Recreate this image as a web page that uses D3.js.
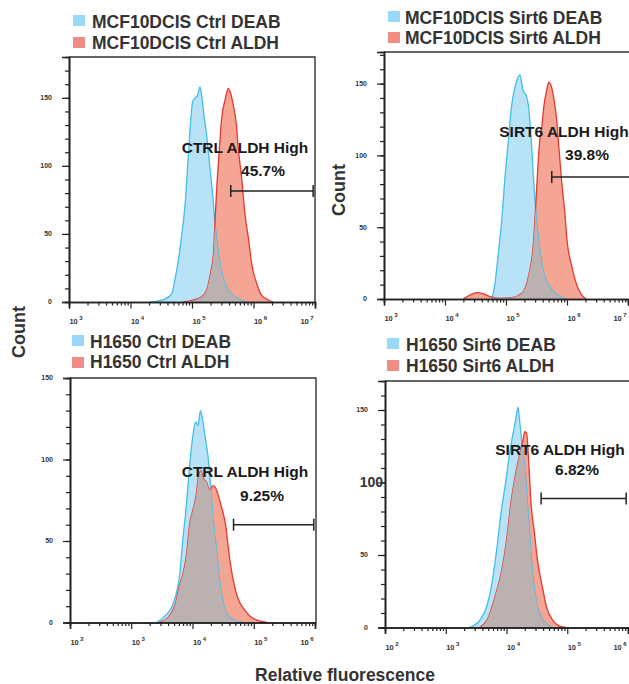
<!DOCTYPE html>
<html>
<head>
<meta charset="utf-8">
<script src="https://cdn.jsdelivr.net/npm/d3@7/dist/d3.min.js"></script>
<style>
  html, body { margin: 0; padding: 0; background: #fff; }
  svg { display: block; font-family: "Liberation Sans", Arial, sans-serif; }
</style>
</head>
<body>
<svg id="chart" width="629" height="684"></svg>
<script>
// ---------------- DATA (x = log10 relative fluorescence, y = count) ----------------
const panelNames = ["MCF10DCIS Ctrl", "MCF10DCIS Sirt6", "H1650 Ctrl", "H1650 Sirt6"];
const seriesSuffix = ["DEAB", "ALDH"];

const mcfCtrlDeabLog   = [4.32,4.55,4.67,4.72,4.78,4.83,4.89,4.94,4.98,5.01,5.05,5.09,5.13,5.16,5.19,5.24,5.29,5.34,5.38,5.43,5.50,5.59,5.73,5.89];
const mcfCtrlDeabCount = [0,2,6,16,31,48,73,107,134,147,150,152,158,151,139,122,99,77,55,36,19,9,3,0];
const mcfCtrlAldhLog   = [4.86,5.13,5.24,5.30,5.35,5.37,5.40,5.44,5.48,5.54,5.59,5.63,5.67,5.72,5.75,5.81,5.86,5.92,5.97,6.05,6.13,6.24,6.32];
const mcfCtrlAldhCount = [0,3,9,21,36,55,82,109,134,149,157,153,145,131,114,90,65,46,28,14,5,1.5,0];

const mcfSirtDeabLog   = [4.77,4.82,4.87,4.93,4.98,5.04,5.09,5.15,5.23,5.28,5.33,5.37,5.41,5.45,5.49,5.55,5.61,5.72,5.89,6.0];
const mcfSirtDeabCount = [0,11,30,55,83,111,134,148,156,145,142,134,113,85,60,36,20,8.6,1.6,0];
const mcfSirtAldhLog   = [4.30,4.41,4.52,4.63,4.74,4.90,5.10,5.26,5.37,5.45,5.49,5.52,5.55,5.59,5.62,5.67,5.70,5.75,5.79,5.83,5.87,5.91,5.96,6.00,6.08,6.16,6.24,6.32];
const mcfSirtAldhCount = [0,2.8,4.4,3.5,1.6,0.5,1,4,16,39,67,90,109,121,134,146,151,147,138,125,104,83,62,41,22.5,9.8,2.8,0];

const h1650CtrlDeabLog   = [3.41,3.54,3.65,3.73,3.79,3.84,3.90,3.95,4.00,4.05,4.09,4.13,4.17,4.21,4.25,4.29,4.33,4.39,4.44,4.50,4.57,4.71,4.82];
const h1650CtrlDeabCount = [0,3.6,8.7,17,29,50,72,95,113,123,121,130,123,113,103,86,66,45.5,27,12.8,4.6,1,0];
const h1650CtrlAldhLog   = [3.46,3.60,3.73,3.79,3.84,3.90,3.96,4.00,4.06,4.10,4.14,4.18,4.23,4.28,4.33,4.37,4.42,4.48,4.54,4.60,4.67,4.74,4.85,4.95,5.09,5.22];
const h1650CtrlAldhCount = [0,3,12.8,23,29,41,62,68,78,90,93,88,86,81,84,83,78,70,60,41,25,15,7.7,3.6,1,0];

const h1650SirtDeabLog   = [3.39,3.56,3.67,3.75,3.83,3.91,4.00,4.05,4.10,4.15,4.19,4.21,4.25,4.30,4.34,4.38,4.42,4.48,4.54,4.65,4.76];
const h1650SirtDeabCount = [0,5,14,28,51,79,104,120,132,143,152,145,129,111,88,65,42,21,10,3,0];
const h1650SirtAldhLog   = [3.56,3.69,3.83,3.91,4.00,4.08,4.15,4.21,4.27,4.30,4.33,4.37,4.40,4.46,4.51,4.59,4.66,4.76,4.87,4.98];
const h1650SirtAldhCount = [0,6,24,37,60,88,106,118,129,135,134,111,88,65,46.5,28,14,5,1,0];

const xDomains = [[1e3,1e7],[1e3,1e7],[1e2,1e6],[1e2,1e6]];
const yMaxes   = [180, 172, 150, 170];
const yMajorTicks = [0, 50, 100, 150];

const gateNames  = ["CTRL ALDH High", "SIRT6 ALDH High", "CTRL ALDH High", "SIRT6 ALDH High"];
const gatePcts   = ["45.7%", "39.8%", "9.25%", "6.82%"];
const gateLowLog  = [5.63, 5.75, 4.67, 4.57];
const gateHighLog = [6.97, 7.10, 5.98, 5.97];
const gateCount   = [81.6, 85, 60, 89];

const xTitle = "Relative fluorescence";
const yTitle = "Count";

// ---------------- LAYOUT ----------------
const layout = [
  {left:69,  right:315, top:57,  bottom:302,   frameRight:315,
   sq:[73,15,37], tx:92,  tb:[27.5,48.5], title:[245,153], pct:[263,176]},
  {left:384, right:628, top:52,  bottom:299,   frameRight:645,
   sq:[388,11,32], tx:405, tb:[23.5,44],  title:[564,137], pct:[587,160]},
  {left:70,  right:315, top:378, bottom:622.5, frameRight:316,
   sq:[72,335,357], tx:90, tb:[347.5,367.5], title:[245,477], pct:[262,501]},
  {left:385, right:628, top:381, bottom:627.5, frameRight:645,
   sq:[387,338,360], tx:406, tb:[350.5,372], title:[560,455], pct:[577,475]},
];

const seriesData = [
  [[mcfCtrlDeabLog, mcfCtrlDeabCount], [mcfCtrlAldhLog, mcfCtrlAldhCount]],
  [[mcfSirtDeabLog, mcfSirtDeabCount], [mcfSirtAldhLog, mcfSirtAldhCount]],
  [[h1650CtrlDeabLog, h1650CtrlDeabCount], [h1650CtrlAldhLog, h1650CtrlAldhCount]],
  [[h1650SirtDeabLog, h1650SirtDeabCount], [h1650SirtAldhLog, h1650SirtAldhCount]],
];

const COL = {
  blueFill: "#b8e3f7", blueLine: "#45bde9", blueLegend: "#9ad8f7",
  redFill: "#f4a594", redLine: "#e8382f", redLegend: "#f08c86",
  gray: "#b6b1b4", axis: "#222", text: "#333"
};

const svg = d3.select("#chart");
const defs = svg.append("defs");

layout.forEach((L, i) => {
  const x = d3.scaleLog().domain(xDomains[i]).range([L.left, L.right]);
  const y = d3.scaleLinear().domain([0, yMaxes[i]]).range([L.bottom, L.top]);
  const g = svg.append("g");

  const toPts = ([lg, ct]) => lg.map((v, k) => ({x: Math.pow(10, v), y: ct[k]}));
  const blue = toPts(seriesData[i][0]);
  const red  = toPts(seriesData[i][1]);

  const area = d3.area().x(d => x(d.x)).y0(y(0)).y1(d => y(d.y)).curve(d3.curveMonotoneX);
  const line = d3.line().x(d => x(d.x)).y(d => y(d.y)).curve(d3.curveMonotoneX);

  defs.append("clipPath").attr("id", "clipBlue" + i)
    .append("path").attr("d", area(blue));

  g.append("path").attr("d", area(blue)).attr("fill", COL.blueFill);
  g.append("path").attr("d", area(red)).attr("fill", COL.redFill);
  g.append("path").attr("d", line(blue)).attr("fill", "none").attr("stroke", COL.blueLine).attr("stroke-width", 1.3);
  g.append("path").attr("d", line(red)).attr("fill", "none").attr("stroke", COL.redLine).attr("stroke-width", 1.3);
  g.append("path").attr("d", area(red)).attr("fill", COL.gray).attr("opacity", 0.93)
    .attr("clip-path", `url(#clipBlue${i})`);

  // frame (top + right)
  g.append("path")
    .attr("d", `M${L.left},${L.top}H${L.frameRight}V${L.bottom}`)
    .attr("fill", "none").attr("stroke", "#333").attr("stroke-width", 1.4);

  // x axis: major + minor ticks
  const [d0, d1] = xDomains[i];
  const majors = [], minors = [];
  for (let e = Math.log10(d0); e <= Math.log10(d1); e++) {
    majors.push(Math.pow(10, e));
    if (e < Math.log10(d1)) for (let k = 2; k <= 9; k++) minors.push(k * Math.pow(10, e));
  }
  const xMinor = g.append("g").attr("transform", `translate(0,${L.bottom})`)
    .call(d3.axisBottom(x).tickValues(minors).tickSize(3.5).tickFormat(""));
  const xMajor = g.append("g").attr("transform", `translate(0,${L.bottom})`)
    .call(d3.axisBottom(x).tickValues(majors).tickSize(6.5).tickFormat(""));
  [xMinor, xMajor].forEach(a => {
    a.select(".domain").attr("stroke", COL.axis).attr("stroke-width", 1.6);
    a.selectAll(".tick line").attr("stroke", COL.axis).attr("stroke-width", 1.2);
  });

  majors.forEach((v, k) => {
    let cx = x(v) + 7;
    if (k === majors.length - 1) cx = Math.min(cx, L.right - 8);
    const t = g.append("text").attr("x", cx).attr("y", L.bottom + 22)
      .attr("text-anchor", "middle").attr("fill", COL.text)
      .attr("font-size", 7.5).attr("font-weight", "bold");
    t.append("tspan").text("10");
    t.append("tspan").attr("font-size", 6).attr("dy", -4).attr("dx", 1.5).text(String(Math.round(Math.log10(v))));
  });

  // y axis
  const yMinorVals = d3.range(0, yMaxes[i], 10);
  const yMinorAx = g.append("g").attr("transform", `translate(${L.left},0)`)
    .call(d3.axisLeft(y).tickValues(yMinorVals).tickSize(4).tickFormat(""));
  const yMajorAx = g.append("g").attr("transform", `translate(${L.left},0)`)
    .call(d3.axisLeft(y).tickValues(yMajorTicks).tickSize(7).tickFormat(""));
  [yMinorAx, yMajorAx].forEach(a => {
    a.select(".domain").attr("stroke", COL.axis).attr("stroke-width", 1.6);
    a.selectAll(".tick line").attr("stroke", COL.axis).attr("stroke-width", 1.2);
  });
  yMajorTicks.forEach(v => {
    const big = (i === 3 && v === 100);
    g.append("text")
      .attr("x", big ? L.left - 2 : L.left - 17)
      .attr("y", y(v)).attr("dy", "0.35em")
      .attr("text-anchor", "end").attr("fill", COL.text)
      .attr("font-size", big ? 14 : 7).attr("font-weight", "bold")
      .text(v);
  });

  // gate
  const gx0 = x(Math.pow(10, gateLowLog[i])), gx1 = x(Math.pow(10, gateHighLog[i])), gy = y(gateCount[i]);
  const gate = g.append("g").attr("stroke", "#222").attr("stroke-width", 1.5);
  gate.append("line").attr("x1", gx0).attr("x2", gx1).attr("y1", gy).attr("y2", gy);
  gate.append("line").attr("x1", gx0).attr("x2", gx0).attr("y1", gy - 6).attr("y2", gy + 6);
  gate.append("line").attr("x1", gx1).attr("x2", gx1).attr("y1", gy - 6).attr("y2", gy + 6);

  g.append("text").attr("x", L.title[0]).attr("y", L.title[1]).attr("text-anchor", "middle")
    .attr("font-size", 15.5).attr("font-weight", "bold").attr("fill", "#1a1a1a").text(gateNames[i]);
  g.append("text").attr("x", L.pct[0]).attr("y", L.pct[1]).attr("text-anchor", "middle")
    .attr("font-size", 15.5).attr("font-weight", "bold").attr("fill", "#1a1a1a").text(gatePcts[i]);

  // legend
  [COL.blueLegend, COL.redLegend].forEach((c, k) => {
    g.append("rect").attr("x", L.sq[0]).attr("y", L.sq[1 + k]).attr("width", 12).attr("height", 11).attr("fill", c);
    g.append("text").attr("x", L.tx).attr("y", L.tb[k]).attr("fill", COL.text)
      .attr("font-size", 17.5).attr("font-weight", "bold")
      .text(panelNames[i] + " " + seriesSuffix[k]);
  });
});

// axis titles
svg.append("text").attr("transform", "translate(25,332) rotate(-90)").attr("text-anchor", "middle")
  .attr("font-size", 18).attr("font-weight", "bold").attr("fill", COL.text).text(yTitle);
svg.append("text").attr("transform", "translate(345,190) rotate(-90)").attr("text-anchor", "middle")
  .attr("font-size", 18).attr("font-weight", "bold").attr("fill", COL.text).text(yTitle);
svg.append("text").attr("x", 345).attr("y", 681).attr("text-anchor", "middle")
  .attr("font-size", 17.5).attr("font-weight", "bold").attr("fill", COL.text).text(xTitle);
</script>
</body>
</html>
